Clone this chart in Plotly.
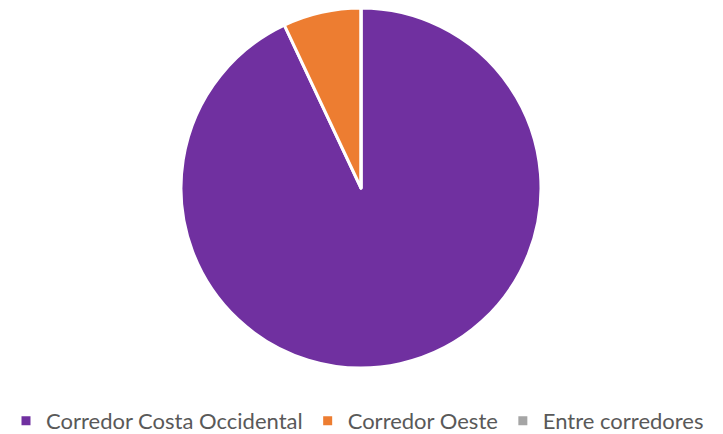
import plotly.graph_objects as go

# Share of the total by corridor
categories = ["Corredor Costa Occidental", "Corredor Oeste", "Entre corredores"]
shares = [93.0, 7.0, 0.0]
colors = ["#7030A0", "#ED7D31", "#A5A5A5"]

W, H = 723, 434
BOTTOM = 42            # space kept under the plot area for the legend
PH = H - BOTTOM        # plot-area height in px

fig = go.Figure(
    go.Pie(
        labels=categories,
        values=shares,
        sort=False,
        direction="clockwise",
        rotation=0,
        textinfo="none",
        hoverinfo="label+percent",
        marker=dict(colors=colors, line=dict(color="white", width=3)),
        domain=dict(x=[181 / W, 541 / W], y=[(PH - 368) / PH, (PH - 8) / PH]),
        showlegend=True,
    )
)

fig.update_layout(
    width=W,
    height=H,
    margin=dict(l=0, r=0, t=0, b=BOTTOM),
    paper_bgcolor="white",
    plot_bgcolor="white",
    font=dict(family="Lato, Open Sans, sans-serif", color="#595959", size=22),
    legend=dict(
        orientation="h",
        xref="container",
        yref="container",
        x=6 / W,
        xanchor="left",
        y=(H - 421) / H,
        yanchor="middle",
        font=dict(size=22, color="#595959"),
        itemwidth=30,
        traceorder="normal",
    ),
)

fig.write_html("out.html")
